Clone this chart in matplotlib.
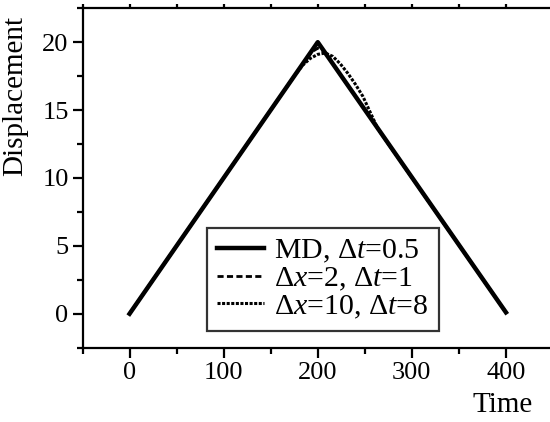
import matplotlib
matplotlib.use("Agg")
import matplotlib.pyplot as plt
from matplotlib.ticker import MultipleLocator

plt.rcParams['font.family'] = ['Liberation Serif', 'DejaVu Serif']
plt.rcParams['mathtext.fontset'] = 'custom'
plt.rcParams['mathtext.rm'] = 'Liberation Serif'
plt.rcParams['mathtext.it'] = 'Liberation Serif:italic'

# Data
md_t = [0, 200, 400]
md_d = [0.0, 20.0, 0.1]

dx2_t = [0, 188, 194, 200, 206, 212, 220, 400]
dx2_d = [0.0, 18.8, 19.3, 19.55, 19.35, 18.9, 18.0, 0.1]

dx10_t = [0, 176, 184, 192, 200, 208, 216, 224, 232, 240, 248, 256, 264, 400]
dx10_d = [0.0, 17.6, 18.3, 18.8, 19.1, 19.2, 18.95, 18.4, 17.7, 16.9, 16.0, 14.8, 13.6, 0.1]

labels = ["MD, Δ$t$=0.5", "Δ$x$=2, Δ$t$=1", "Δ$x$=10, Δ$t$=8"]

fig = plt.figure(figsize=(5.5, 4.22), dpi=100)
W, H = 550, 422
ax = fig.add_axes([82.5 / W, (H - 347.7) / H, 470.5 / W, 339.5 / H])

ax.plot(md_t, md_d, color='black', lw=3.2, solid_joinstyle='round', label=labels[0])
ax.plot(dx2_t, dx2_d, color='black', lw=2.0, ls=(0, (2.2, 1.2)), label=labels[1])
ax.plot(dx10_t, dx10_d, color='black', lw=2.2, ls=(0, (1, 0.5)), label=labels[2])

ax.set_xlim(-50, 450)
ax.set_ylim(-2.5, 22.5)

ax.xaxis.set_major_locator(MultipleLocator(100))
ax.xaxis.set_minor_locator(MultipleLocator(50))
ax.yaxis.set_major_locator(MultipleLocator(5))
ax.yaxis.set_minor_locator(MultipleLocator(2.5))

for s in ax.spines.values():
    s.set_linewidth(1.6)

ax.tick_params(axis='both', which='major', direction='out', length=7, width=1.6,
               labelsize=19, pad=3)
ax.tick_params(axis='both', which='minor', direction='out', length=4, width=1.6)
ax.tick_params(axis='x', which='both', top=True, labeltop=False)
ax.tick_params(axis='y', which='both', right=True, labelright=False)
for t in ax.xaxis.get_major_ticks() + ax.xaxis.get_minor_ticks():
    t.tick2line.set_markersize(3)
for t in ax.yaxis.get_major_ticks() + ax.yaxis.get_minor_ticks():
    t.tick2line.set_markersize(3)

fig.text(28 / W, 1 - 96 / H, "Displacement", fontsize=21, rotation=90,
         ha='right', va='center')
fig.text(533 / W, 1 - 405 / H, "Time", fontsize=21, ha='right', va='center')

leg = ax.legend(loc='upper left', bbox_to_anchor=((206.5 - 82.5) / 470.5, (347.7 - 227.5) / 339.5),
                fontsize=21.5, frameon=True, fancybox=False, edgecolor='black',
                handlelength=1.57, handletextpad=0.35, labelspacing=0.0,
                borderpad=0.35, borderaxespad=0)
leg.get_frame().set_linewidth(1.6)

fig.savefig("out.png", dpi=100)
